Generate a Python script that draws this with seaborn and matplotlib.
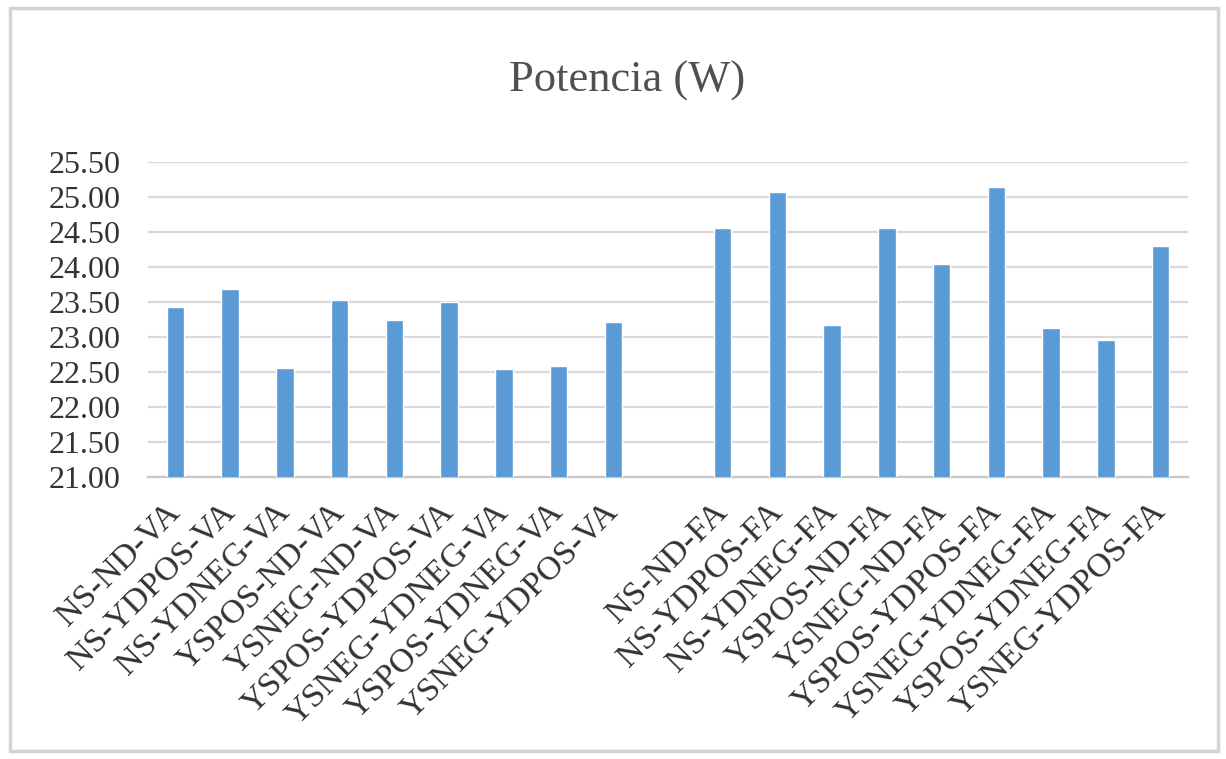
import matplotlib
matplotlib.use("Agg")
import matplotlib.pyplot as plt
import seaborn as sns
import pandas as pd
import numpy as np
from matplotlib.patches import Rectangle

# Power per configuration (W)
va_labels = ["NS-ND-VA", "NS-YDPOS-VA", "NS-YDNEG-VA", "YSPOS-ND-VA", "YSNEG-ND-VA",
             "YSPOS-YDPOS-VA", "YSNEG-YDNEG-VA", "YSPOS-YDNEG-VA", "YSNEG-YDPOS-VA"]
va_values = [23.43, 23.68, 22.55, 23.53, 23.24, 23.50, 22.54, 22.58, 23.21]

fa_labels = ["NS-ND-FA", "NS-YDPOS-FA", "NS-YDNEG-FA", "YSPOS-ND-FA", "YSNEG-ND-FA",
             "YSPOS-YDPOS-FA", "YSNEG-YDNEG-FA", "YSPOS-YDNEG-FA", "YSNEG-YDPOS-FA"]
fa_values = [24.56, 25.07, 23.17, 24.56, 24.04, 25.14, 23.13, 22.95, 24.30]

gap_label = " "
y_ticks = [21.00, 21.50, 22.00, 22.50, 23.00, 23.50, 24.00, 24.50, 25.00, 25.50]

order = va_labels + [gap_label] + fa_labels
df = pd.DataFrame({"config": va_labels + fa_labels, "power": va_values + fa_values})

sns.set_theme(style="white")
plt.rcParams["font.family"] = ["Liberation Serif", "DejaVu Serif"]

fig = plt.figure(figsize=(12.26, 7.59), dpi=100)
ax = fig.add_axes([148 / 1226, 1 - 476.7 / 759, (1188 - 148) / 1226, (476.7 - 162) / 759])

sns.barplot(data=df, x="config", y="power", order=order, color="#5B9BD5",
            saturation=1, width=0.32, ax=ax, zorder=3)

ax.set_ylim(y_ticks[0], y_ticks[-1])
ax.set_xlim(-0.5, len(order) - 0.5)
ax.set_yticks(y_ticks)
ax.set_yticklabels([f"{v:.2f}" for v in y_ticks])
ax.yaxis.grid(True, color="#D9D9D9", linewidth=1.6, zorder=0)
ax.xaxis.grid(False)
ax.set_axisbelow(True)
ax.set_xlabel("")
ax.set_ylabel("")

for side in ["top", "right", "left"]:
    ax.spines[side].set_visible(False)
ax.spines["bottom"].set_color("#C8C8C8")
ax.spines["bottom"].set_linewidth(1.6)

ax.tick_params(axis="y", length=0, pad=20, labelsize=23, labelcolor="#333333")
ax.tick_params(axis="x", length=0, pad=22, labelsize=24.5, labelcolor="#333333")
plt.setp(ax.get_xticklabels(), rotation=45, ha="right", va="center",
         rotation_mode="anchor")

fig.text(627 / 1226, 1 - 81 / 759, "Potencia (W)", ha="center", va="center",
         fontsize=32, color="#505050")

# chart area border
fig.patches.append(Rectangle((10 / 1226, 1 - 751 / 759), 1208 / 1226, 743 / 759,
                             transform=fig.transFigure, fill=False,
                             edgecolor="#D4D4D4", linewidth=2.5))

fig.savefig("out.png", dpi=100, facecolor="white")
